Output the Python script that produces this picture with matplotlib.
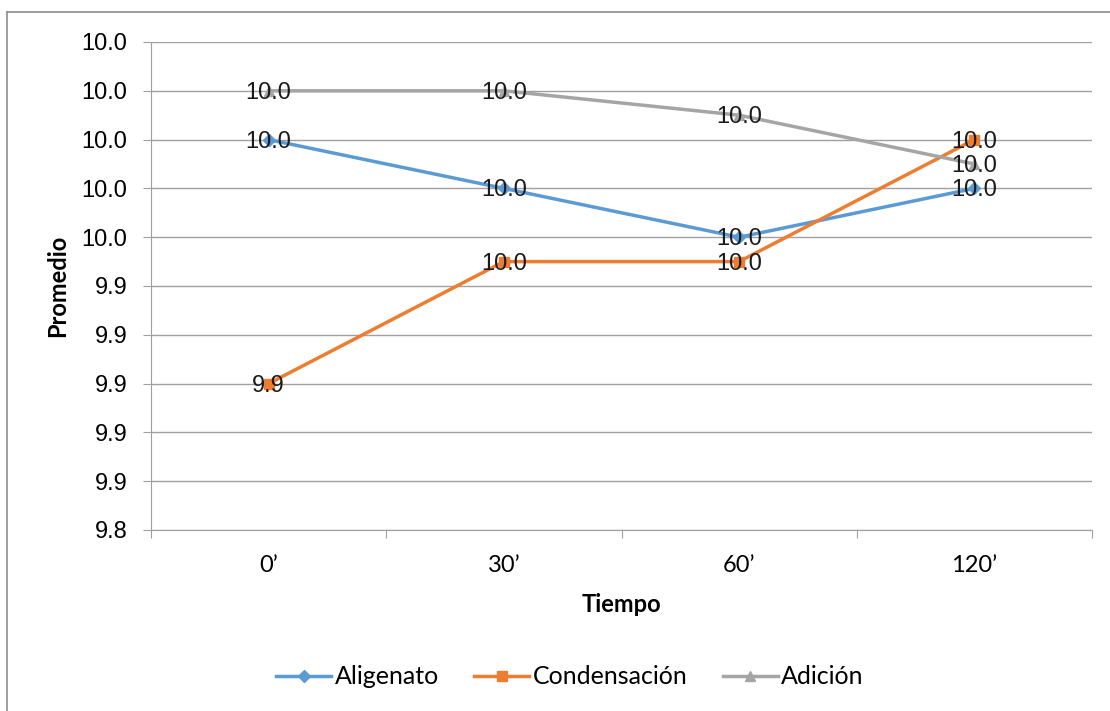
import numpy as np
import matplotlib
matplotlib.use("Agg")
import matplotlib.pyplot as plt
from matplotlib.lines import Line2D
from decimal import Decimal, ROUND_HALF_UP

tiempos = ["0’", "30’", "60’", "120’"]
aligenato = [10.00, 9.98, 9.96, 9.98]
condensacion = [9.90, 9.95, 9.95, 10.00]
adicion = [10.02, 10.02, 10.01, 9.99]
y_ticks = [9.84, 9.86, 9.88, 9.90, 9.92, 9.94, 9.96, 9.98, 10.00, 10.02, 10.04]


def fmt(v):
    # Excel rounds half up
    return str(Decimal(str(v)).quantize(Decimal("0.1"), rounding=ROUND_HALF_UP))


W, H = 1110, 711
fig = plt.figure(figsize=(W / 100, H / 100), dpi=100)
ax = fig.add_axes([151 / W, (H - 530) / H, (1092 - 151) / W, (530 - 42) / H])

x = np.arange(len(tiempos))
series = [
    ("Aligenato", aligenato, "#5B9BD5", "D", 6),
    ("Condensación", condensacion, "#ED7D31", "s", 7),
    ("Adición", adicion, "#A5A5A5", "^", 7),
]
for name, vals, col, mk, ms in series:
    ax.plot(x, vals, color=col, lw=2.5, marker=mk, markersize=ms, label=name, zorder=3)
    for xi, v in zip(x, vals):
        ax.annotate(fmt(v), (xi, v), xytext=(0, -1.5), textcoords="offset points",
                    ha="center", va="center", fontsize=17,
                    family="Liberation Sans", color="#1a1a1a", zorder=4)

ax.set_xlim(-0.5, len(tiempos) - 0.5)
ax.set_ylim(y_ticks[0], y_ticks[-1])
ax.set_yticks(y_ticks)
ax.set_yticklabels([fmt(t) for t in y_ticks], family="Liberation Sans", fontsize=17)
ax.yaxis.grid(True, color="#a0a0a0", lw=1)
ax.set_axisbelow(True)

# category boundaries as tick marks, labels at centers
ax.set_xticks(np.arange(-0.5, len(tiempos), 1.0))
ax.set_xticklabels([])
ax.set_xticks(x, minor=True)
ax.set_xticklabels(tiempos, minor=True, family="Lato", fontsize=17)
ax.tick_params(axis="x", which="minor", length=0, pad=18)
ax.tick_params(axis="x", which="major", length=6, color="#a0a0a0")
ax.tick_params(axis="y", length=6, color="#a0a0a0", pad=11)

for s in ["top", "right"]:
    ax.spines[s].set_visible(False)
for s in ["left", "bottom"]:
    ax.spines[s].set_color("#a0a0a0")

ax.set_ylabel("Promedio", family="Lato", fontsize=17, fontweight="bold", labelpad=9)
ax.set_xlabel("Tiempo", family="Lato", fontsize=17, fontweight="bold", labelpad=12)

fig.legend(loc="center", bbox_to_anchor=(0.5135, (H - 677) / H), ncol=3, frameon=False,
           prop={"family": "Lato", "size": 18}, handlelength=2.2, columnspacing=1.4,
           handletextpad=0.15)

# outer chart frame (cropped at right and bottom)
fig.add_artist(Line2D([7 / W, 1], [1 - 12 / H, 1 - 12 / H], transform=fig.transFigure,
                      color="#8c8c8c", lw=1.2))
fig.add_artist(Line2D([7 / W, 7 / W], [0, 1 - 12 / H], transform=fig.transFigure,
                      color="#8c8c8c", lw=1.2))

fig.savefig("out.png", dpi=100)
